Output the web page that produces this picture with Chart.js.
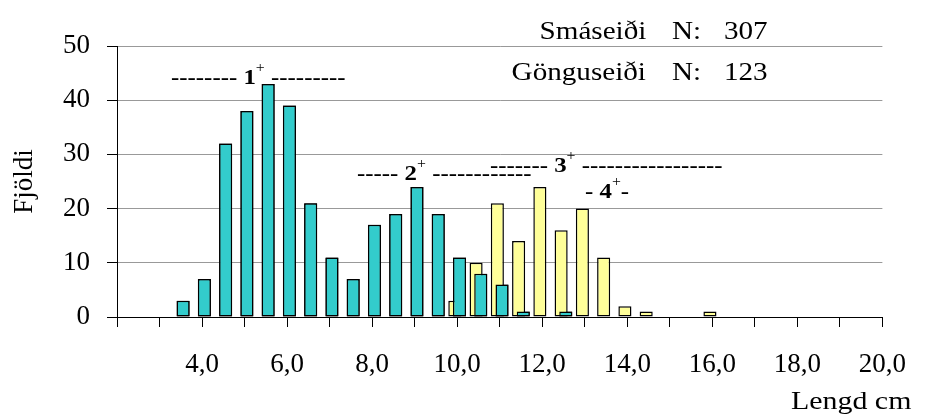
<!DOCTYPE html>
<html>
<head>
<meta charset="utf-8">
<script src="https://cdn.jsdelivr.net/npm/chart.js@4"></script>
<style>
  body { margin: 0; background: #fff; }
  #wrap { position: relative; width: 928px; height: 416px; }
  .note {
    position: absolute; font: 26px 'Liberation Serif', 'Times New Roman', serif;
    line-height: 26px; white-space: pre; color: #000;
    transform: scaleX(1.12); transform-origin: 0 0;
  }
  .note.right { transform-origin: 100% 0; }
  .age {
    position: absolute; font: bold 22px 'Liberation Serif', 'Times New Roman', serif;
    line-height: 22px; white-space: pre; color: #000;
    transform: scaleX(1.13); transform-origin: 0 0;
  }
  .age span { font-size: 14px; font-weight: normal; position: relative; top: -12px; }
</style>
</head>
<body>
<div id="wrap">
  <canvas id="lengthChart" width="928" height="416"></canvas>

  <!-- N counts -->
  <div class="note right" style="top:18px; right:282px;">Smáseiði</div>
  <div class="note" style="top:18px; left:672px;">N:</div>
  <div class="note" id="nSma" style="top:18px; left:724px;"></div>
  <div class="note right" style="top:59px; right:282px;">Gönguseiði</div>
  <div class="note" style="top:59px; left:672px;">N:</div>
  <div class="note" id="nGongu" style="top:59px; left:724px;"></div>

  <!-- Age groups -->
  <div class="age" style="top:66px; left:171px;">-------- 1<span>+</span> ---------</div>
  <div class="age" style="top:162px; left:357px;">----- 2<span>+</span> ------------</div>
  <div class="age" style="top:154px; left:490px;">------- 3<span>+</span> -----------------</div>
  <div class="age" style="top:180px; left:585px;">- 4<span>+</span>-</div>

  <!-- x axis title -->
  <div class="note" style="top:388px; left:791px; transform:scaleX(1.15);">Lengd cm</div>
</div>

<script>
  // Length classes (cm), 0.5 cm steps
  const lengths = [
    "2,0", "2,5", "3,0", "3,5", "4,0", "4,5", "5,0", "5,5", "6,0", "6,5",
    "7,0", "7,5", "8,0", "8,5", "9,0", "9,5", "10,0", "10,5", "11,0", "11,5",
    "12,0", "12,5", "13,0", "13,5", "14,0", "14,5", "15,0", "15,5", "16,0", "16,5",
    "17,0", "17,5", "18,0", "18,5", "19,0", "19,5", "20,0"
  ];

  // Smáseiði (parr)
  const smaseidi = [
    0, 0, 0, 3, 7, 32, 38, 43, 39, 21,
    11, 7, 17, 19, 24, 19, 11, 8, 6, 1,
    0, 1, 0, 0, 0, 0, 0, 0, 0, 0,
    0, 0, 0, 0, 0, 0, 0
  ];

  // Gönguseiði (smolts)
  const gonguseidi = [
    0, 0, 0, 0, 0, 0, 0, 0, 0, 0,
    0, 0, 0, 0, 0, 0, 3, 10, 21, 14,
    24, 16, 20, 11, 2, 1, 0, 0, 1, 0,
    0, 0, 0, 0, 0, 0, 0
  ];

  const yTicks = { min: 0, max: 50, step: 10 };

  // Totals for the N: text
  const sum = arr => arr.reduce((a, b) => a + b, 0);
  document.getElementById("nSma").innerText = sum(smaseidi);
  document.getElementById("nGongu").innerText = sum(gonguseidi);

  Chart.defaults.font.family = "'Liberation Serif', 'Times New Roman', serif";
  Chart.defaults.color = "#000";

  // Excel draws the teal series over the yellow one
  const tealOnTop = {
    id: "tealOnTop",
    afterDatasetsDraw(chart) {
      const ctx = chart.ctx;
      ctx.save();
      chart.getDatasetMeta(1).data.forEach(bar => bar.draw(ctx, chart.chartArea));
      ctx.restore();
    }
  };

  const ctx = document.getElementById("lengthChart").getContext("2d");
  new Chart(ctx, {
    type: "bar",
    data: {
      labels: lengths,
      datasets: [
        {
          label: "Gönguseiði",
          data: gonguseidi,
          backgroundColor: "#FFFF99",
          borderColor: "#000",
          borderWidth: 1.5,
          borderSkipped: false
        },
        {
          label: "Smáseiði",
          data: smaseidi,
          backgroundColor: "#33CCCC",
          borderColor: "#000",
          borderWidth: 1.5,
          borderSkipped: false
        }
      ]
    },
    options: {
      responsive: false,
      animation: false,
      devicePixelRatio: 1,
      categoryPercentage: 0.44,
      barPercentage: 2.8,
      layout: { padding: { top: 46, right: 29, left: 0, bottom: 0 } },
      plugins: {
        legend: { display: false },
        tooltip: { enabled: false }
      },
      scales: {
        x: {
          offset: false,
          afterFit: scale => { scale.height = 99; },
          grid: {
            offset: false,
            drawOnChartArea: false,
            tickLength: 10,
            tickColor: c => (c.index % 2 === 0 ? "#000" : "rgba(0,0,0,0)")
          },
          border: { color: "#000", width: 1 },
          ticks: {
            autoSkip: false,
            maxRotation: 0,
            padding: 22,
            font: { size: 27 },
            callback: function (value, index) {
              return index > 0 && index % 4 === 0 ? this.getLabelForValue(value) : "";
            }
          }
        },
        y: {
          min: yTicks.min,
          max: yTicks.max,
          afterFit: scale => { scale.width = 117; },
          grid: { color: "#999", tickColor: "#000", tickLength: 10 },
          border: { color: "#000", width: 1 },
          ticks: { stepSize: yTicks.step, padding: 17, font: { size: 27 } },
          title: {
            display: true,
            text: "Fjöldi",
            padding: { top: 9, bottom: 0 },
            font: { size: 27 }
          }
        }
      }
    },
    plugins: [tealOnTop]
  });
</script>
</body>
</html>
